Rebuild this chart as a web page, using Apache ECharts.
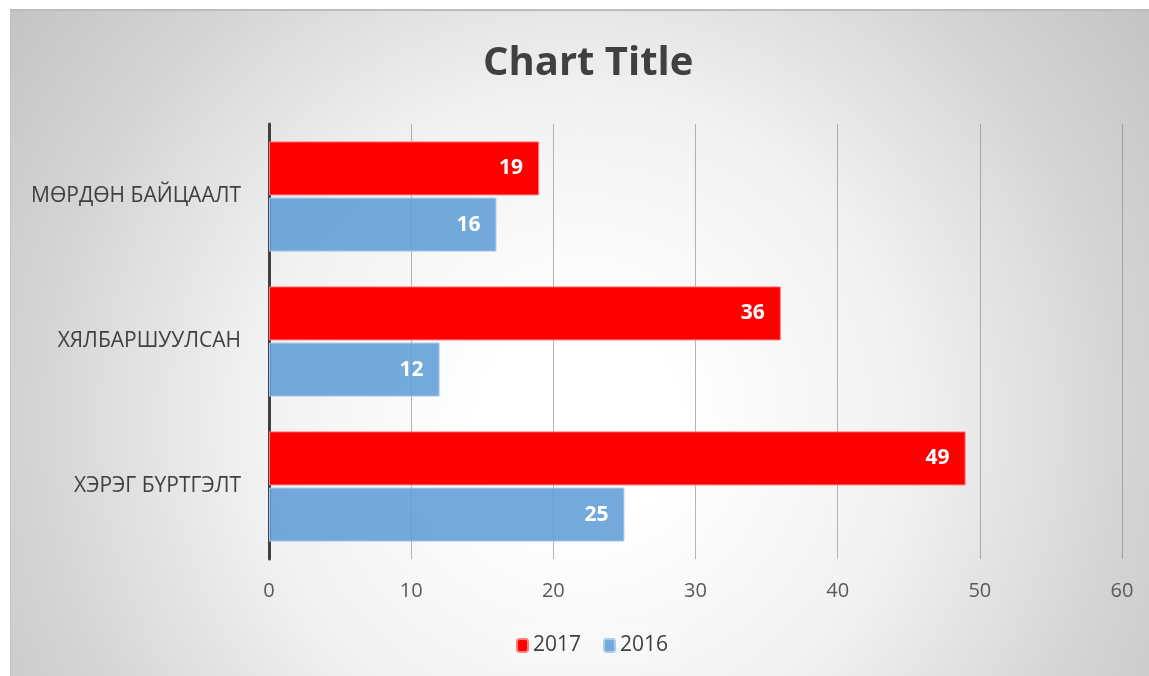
<!DOCTYPE html>
<html>
<head>
<meta charset="utf-8">
<script src="https://cdn.jsdelivr.net/npm/echarts@6/dist/echarts.min.js"></script>
<style>
  html, body { margin: 0; padding: 0; background: #ffffff; }
  #chart {
    position: absolute; left: 10px; top: 9px; width: 1139px; height: 667px;
    box-sizing: border-box;
    border-top: 2px solid #bcbcbc; border-left: 1px solid #c4c4c4;
    background: radial-gradient(circle farthest-corner at 50% 62%, #ffffff 0%, #ffffff 14%, #f1f1f1 47%, #d4d4d4 78%, #c4c4c4 100%);
  }
</style>
</head>
<body>
<div id="chart"></div>
<script>
// 类目（从上到下）
const categories = ['МӨРДӨН БАЙЦААЛТ', 'ХЯЛБАРШУУЛСАН', 'ХЭРЭГ БҮРТГЭЛТ'];
const values2017 = [19, 36, 49];
const values2016 = [16, 12, 25];
const seriesNames = ['2017', '2016'];

const chart = echarts.init(document.getElementById('chart'), null, { renderer: 'canvas' });

const labelStyle = {
  show: true,
  position: 'insideRight',
  distance: 16,
  color: '#ffffff',
  fontWeight: 'bold',
  fontSize: 21,
  fontFamily: 'Open Sans'
};

chart.setOption({
  backgroundColor: 'transparent',
  textStyle: { fontFamily: 'Open Sans' },
  title: {
    text: 'Chart Title',
    left: 467,
    top: 28,
    textStyle: { fontSize: 40, fontWeight: 'bold', color: '#404040', fontFamily: 'Open Sans' }
  },
  legend: {
    data: seriesNames,
    left: 491,
    top: 612,
    itemWidth: 11,
    itemHeight: 13,
    itemGap: 22,
    padding: [12, 14],
    backgroundColor: 'rgba(255,255,255,0.18)',
    textStyle: { fontSize: 21, color: '#404040', fontFamily: 'Open Sans' }
  },
  grid: { left: 258, right: 27, top: 113, bottom: 117 },
  xAxis: {
    type: 'value',
    min: 0,
    max: 60,
    interval: 10,
    axisLine: { show: false },
    axisTick: { show: false },
    axisLabel: { fontSize: 20, color: '#595959', margin: 22 },
    splitLine: { lineStyle: { color: 'rgba(120,120,120,0.55)', width: 1 } }
  },
  yAxis: {
    type: 'category',
    data: categories,
    inverse: true,
    axisLine: { lineStyle: { color: '#404040', width: 3 } },
    axisTick: { show: false },
    axisLabel: { fontSize: 21, color: '#404040', margin: 28 }
  },
  series: [
    {
      name: seriesNames[0],
      type: 'bar',
      data: values2017,
      barGap: '4%',
      barCategoryGap: '24%',
      itemStyle: { color: '#ff0000', borderColor: '#ff7c80', borderWidth: 1 },
      label: labelStyle
    },
    {
      name: seriesNames[1],
      type: 'bar',
      data: values2016,
      itemStyle: { color: 'rgba(91,155,213,0.85)', borderColor: '#a9cbec', borderWidth: 1 },
      label: labelStyle
    }
  ]
});
</script>
</body>
</html>
